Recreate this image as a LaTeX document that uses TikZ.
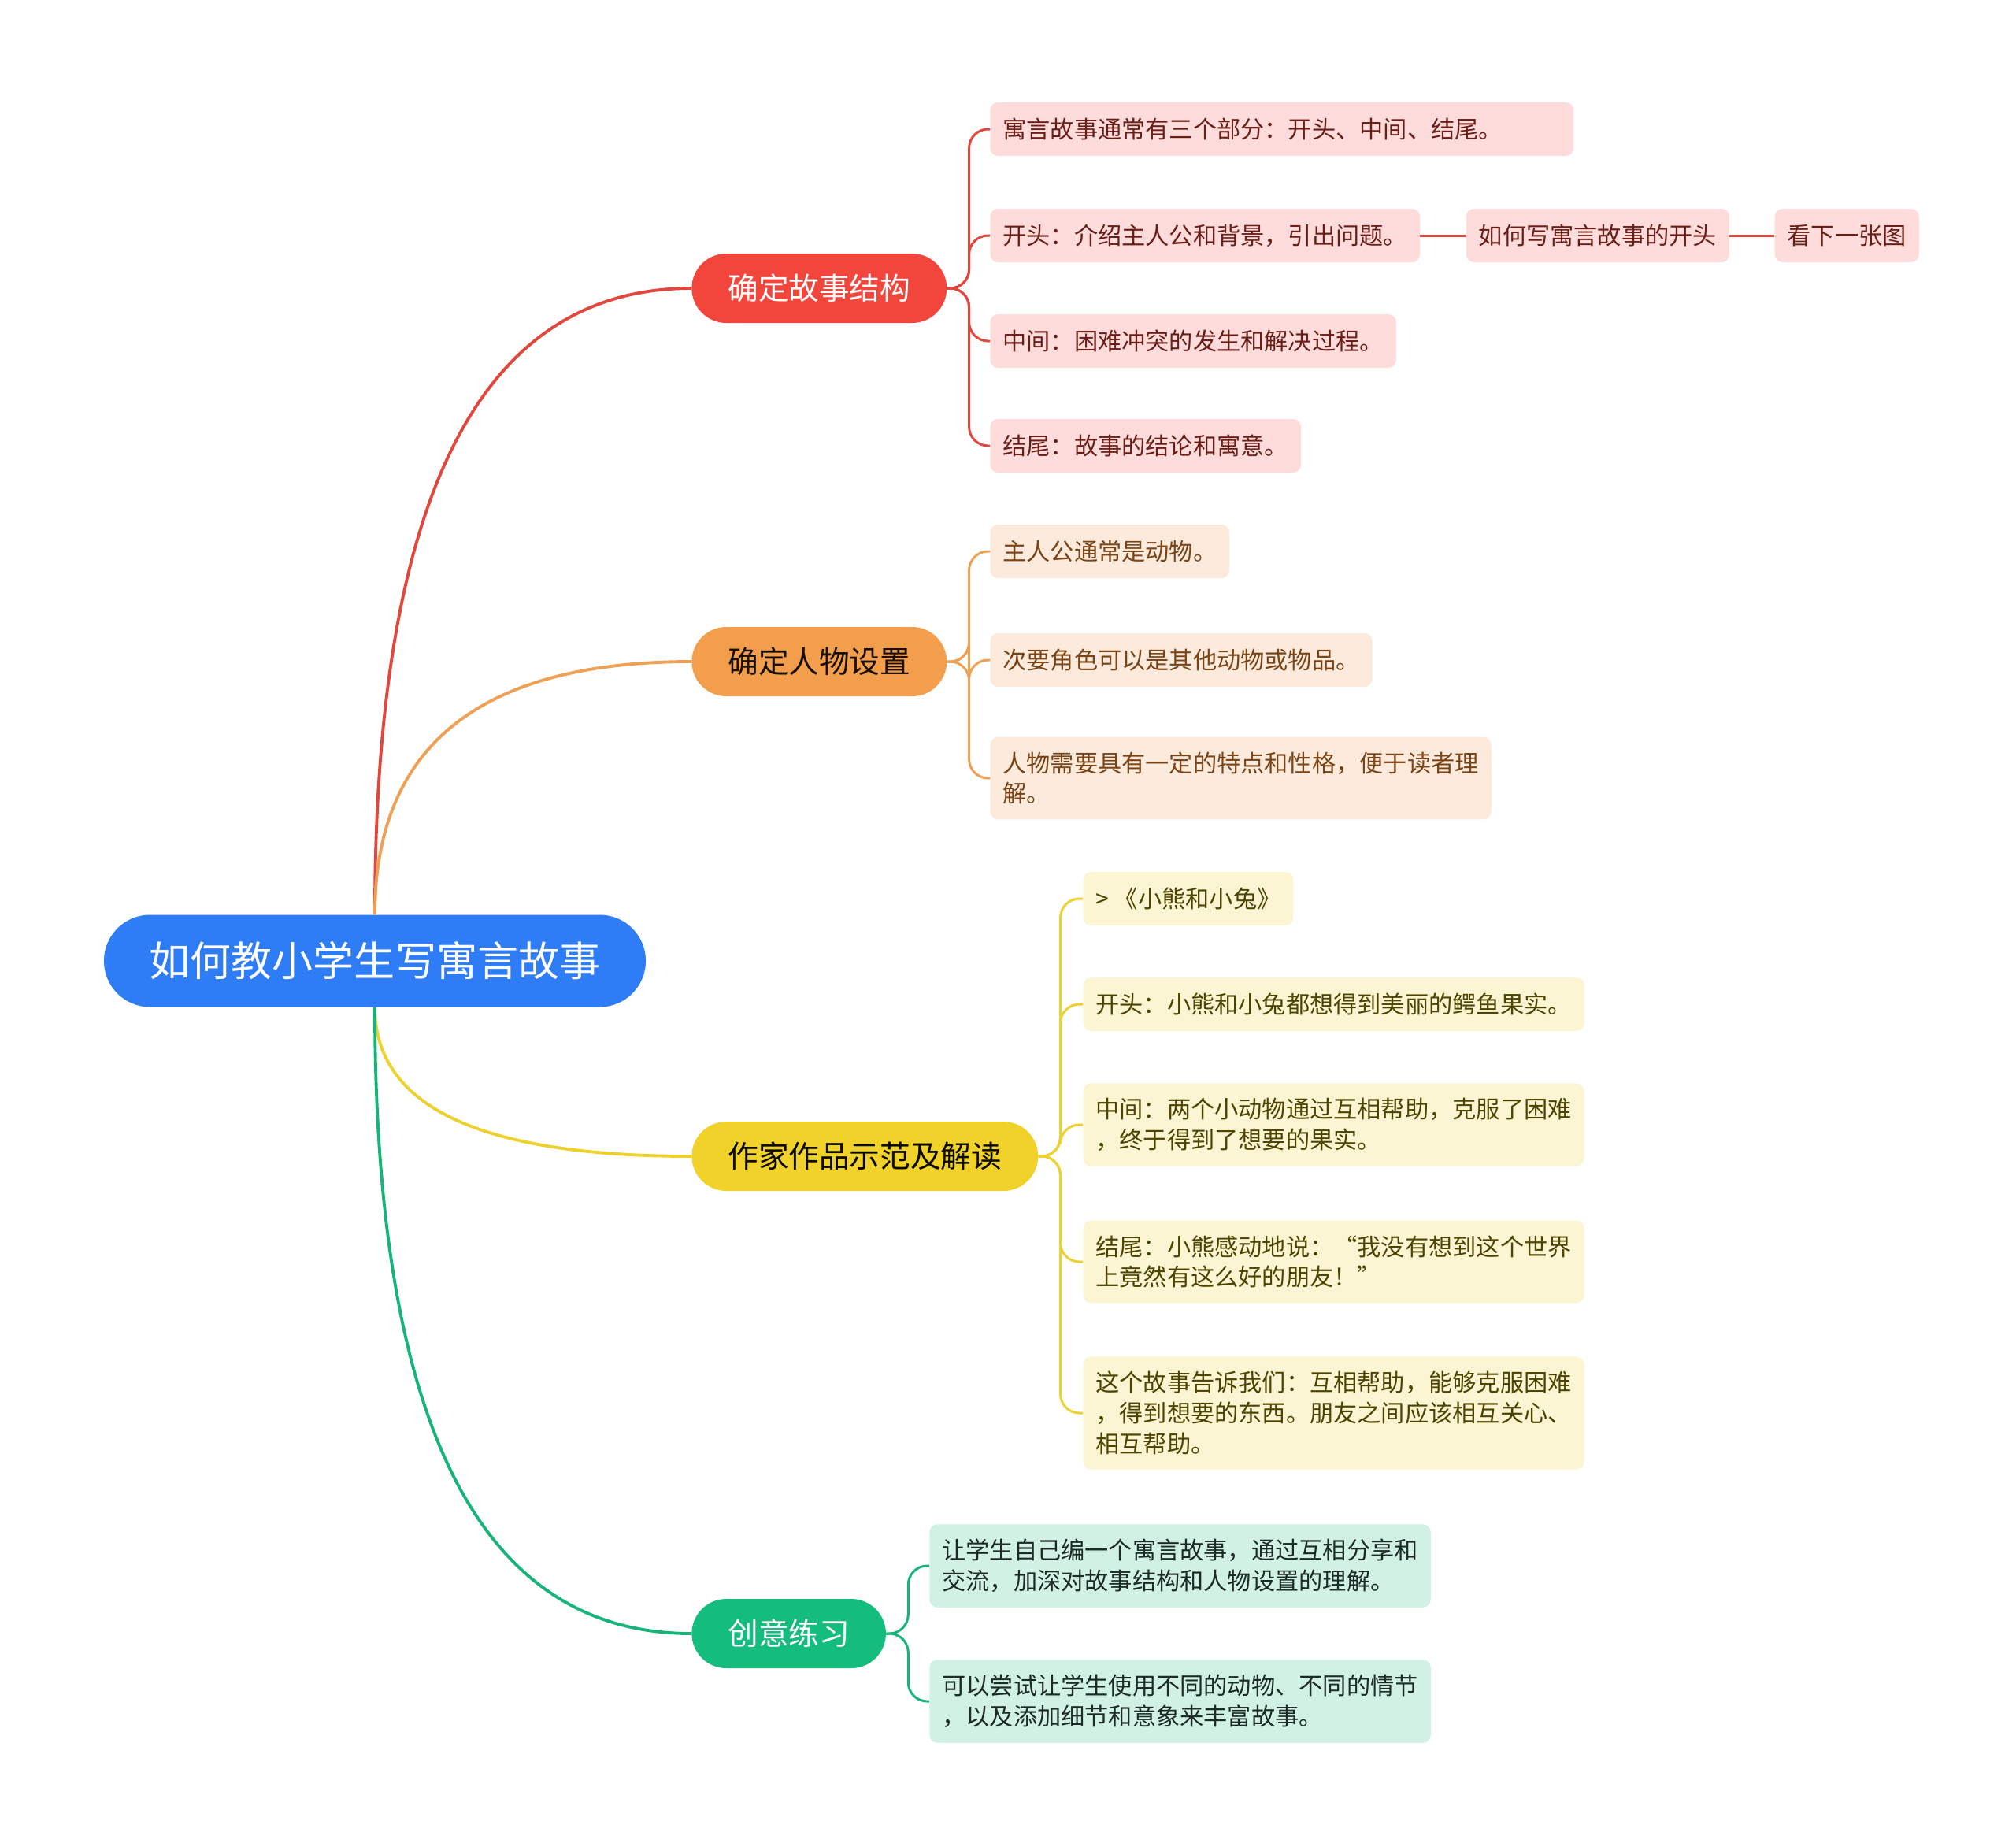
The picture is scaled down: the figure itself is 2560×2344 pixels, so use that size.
\documentclass[tikz,border=0pt]{standalone}
\usepackage{fontspec}
\setmainfont{Noto Sans CJK SC}
\usepackage{tikz}
\usetikzlibrary{positioning, calc}
\usepackage{xcolor}
\definecolor{rootblue}{HTML}{2E7CF6}
\definecolor{redtopic}{HTML}{F2463C}
\definecolor{redline}{HTML}{E2473D}
\definecolor{redleaf}{HTML}{FDDCDB}
\definecolor{redtext}{HTML}{6B1E17}
\definecolor{orangetopic}{HTML}{F29E4C}
\definecolor{orangeline}{HTML}{EEA055}
\definecolor{orangeleaf}{HTML}{FCEBDD}
\definecolor{orangetext}{HTML}{7A4416}
\definecolor{yellowtopic}{HTML}{F0D22A}
\definecolor{yellowline}{HTML}{EDD12E}
\definecolor{yellowleaf}{HTML}{FCF5D3}
\definecolor{yellowtext}{HTML}{4D4400}
\definecolor{greentopic}{HTML}{14BC7E}
\definecolor{greenline}{HTML}{17B47A}
\definecolor{greenleaf}{HTML}{D0F1E3}
\definecolor{greentext}{HTML}{1C2B26}

\begin{document}
\begin{tikzpicture}[
				x=0.02cm, y=-0.02cm,
				every node/.style={font=\fontsize{17.2pt}{22pt}\selectfont, inner xsep=0.32cm, inner ysep=0.38cm, minimum height=1.36cm, rounded corners=0.2cm},
				root/.style={fill=rootblue, text=white, font=\fontsize{29.6pt}{34pt}\selectfont, inner xsep=1.16cm, inner ysep=0pt, minimum height=2.34cm, rounded corners=1.17cm},
				topic/.style={anchor=west, font=\fontsize{22pt}{26pt}\selectfont, inner xsep=0.92cm, inner ysep=0pt, minimum height=1.76cm, rounded corners=0.88cm},
				leaf/.style={anchor=west, align=left},
				red leaf/.style={leaf, fill=redleaf, text=redtext},
				orange leaf/.style={leaf, fill=orangeleaf, text=orangetext},
				yellow leaf/.style={leaf, fill=yellowleaf, text=yellowtext},
				green leaf/.style={leaf, fill=greenleaf, text=greentext},
				main link/.style={line width=2.2pt},
				sub link/.style={line width=1.7pt, rounded corners=0.48cm}
				]
				\useasboundingbox (0,0) rectangle (2560,2344);
				
				% Root and topics
				\node[root] (root) at (476,1220) {如何教小学生写寓言故事};
				\node[topic, fill=redtopic, text=white] (b1) at (878,366) {确定故事结构};
				\node[topic, fill=orangetopic, text=black!80!orangetext] (b2) at (878,840) {确定人物设置};
				\node[topic, fill=yellowtopic, text=black!85!yellowtext] (b3) at (878,1468) {作家作品示范及解读};
				\node[topic, fill=greentopic, text=white] (b4) at (878,2074) {创意练习};
				
				% Leaves
				\node[red leaf, text width=14.18cm] (l11) at (1257,164) {寓言故事通常有三个部分：开头、中间、结尾。};
				\node[red leaf] (l12) at (1257,299) {开头：介绍主人公和背景，引出问题。};
				\node[red leaf, right=1.16cm of l12] (s12) {如何写寓言故事的开头};
				\node[red leaf, right=1.14cm of s12] (t12) {看下一张图};
				\node[red leaf] (l13) at (1257,433) {中间：困难冲突的发生和解决过程。};
				\node[red leaf] (l14) at (1257,566) {结尾：故事的结论和寓意。};
				
				\node[orange leaf] (l21) at (1257,700) {主人公通常是动物。};
				\node[orange leaf] (l22) at (1257,838) {次要角色可以是其他动物或物品。};
				\node[orange leaf] (l23) at (1257,988) {人物需要具有一定的特点和性格，便于读者理\\解。};
				
				\node[yellow leaf] (l31) at (1375,1141) {> 《小熊和小兔》};
				\node[yellow leaf] (l32) at (1375,1275) {开头：小熊和小兔都想得到美丽的鳄鱼果实。};
				\node[yellow leaf] (l33) at (1375,1428) {中间：两个小动物通过互相帮助，克服了困难\\，终于得到了想要的果实。};
				\node[yellow leaf] (l34) at (1375,1602) {结尾：小熊感动地说：“我没有想到这个世界\\上竟然有这么好的朋友！”};
				\node[yellow leaf] (l35) at (1375,1794) {这个故事告诉我们：互相帮助，能够克服困难\\，得到想要的东西。朋友之间应该相互关心、\\相互帮助。};
				
				\node[green leaf] (l41) at (1180,1988) {让学生自己编一个寓言故事，通过互相分享和\\交流，加深对故事结构和人物设置的理解。};
				\node[green leaf] (l42) at (1180,2160) {可以尝试让学生使用不同的动物、不同的情节\\，以及添加细节和意象来丰富故事。};
				
				% Links from the root (quadratic curves)
				\draw[main link, redline] (root.north) .. controls ($(root.north)!0.667!(root.north |- b1.west)$) and ($(b1.west)!0.667!(root.north |- b1.west)$) .. (b1.west);
				\draw[main link, orangeline] (root.north) .. controls ($(root.north)!0.667!(root.north |- b2.west)$) and ($(b2.west)!0.667!(root.north |- b2.west)$) .. (b2.west);
				\draw[main link, yellowline] (root.south) .. controls ($(root.south)!0.667!(root.south |- b3.west)$) and ($(b3.west)!0.667!(root.south |- b3.west)$) .. (b3.west);
				\draw[main link, greenline] (root.south) .. controls ($(root.south)!0.667!(root.south |- b4.west)$) and ($(b4.west)!0.667!(root.south |- b4.west)$) .. (b4.west);
				
				% Links to the leaves
				\foreach \leaf in {l11,l12,l13,l14}
					\draw[sub link, redline] (b1.east) -- ++(28,0) |- (\leaf.west);
				\foreach \leaf in {l21,l22,l23}
					\draw[sub link, orangeline] (b2.east) -- ++(28,0) |- (\leaf.west);
				\foreach \leaf in {l31,l32,l33,l34,l35}
					\draw[sub link, yellowline] (b3.east) -- ++(28,0) |- (\leaf.west);
				\foreach \leaf in {l41,l42}
					\draw[sub link, greenline] (b4.east) -- ++(28,0) |- (\leaf.west);
				\draw[sub link, redline] (l12.east) -- (s12.west);
				\draw[sub link, redline] (s12.east) -- (t12.west);
				
			\end{tikzpicture}
\end{document}
